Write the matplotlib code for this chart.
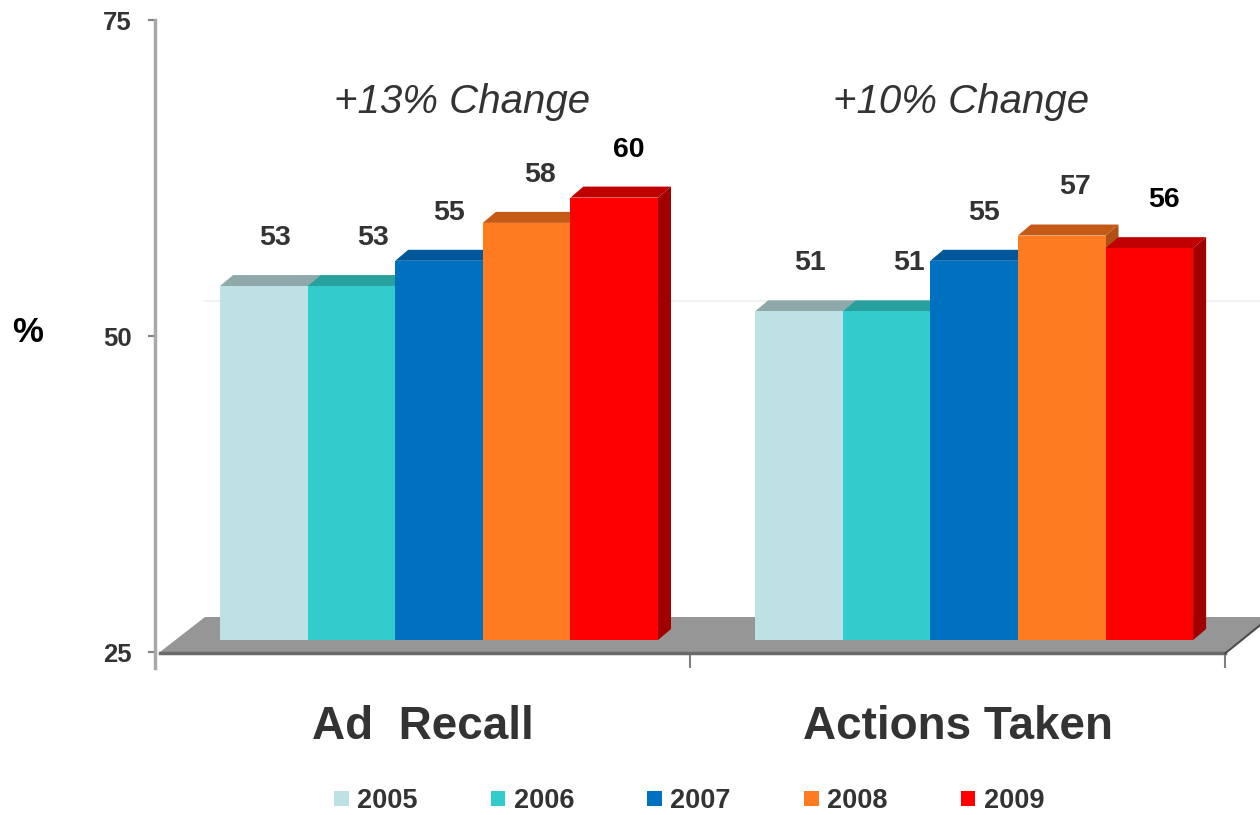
import matplotlib
matplotlib.use("Agg")
import matplotlib.pyplot as plt
from matplotlib.patches import Polygon, Rectangle, Patch

plt.rcParams["font.family"] = ["Liberation Sans", "DejaVu Sans"]

# data
categories = ["Ad  Recall", "Actions Taken"]
years = ["2005", "2006", "2007", "2008", "2009"]
ad_recall = [53, 53, 55, 58, 60]
actions_taken = [51, 51, 55, 57, 56]
series = [ad_recall, actions_taken]
changes = ["+13% Change", "+10% Change"]
yticks = [25, 50, 75]

# styling
front_cols = ["#BDE1E5", "#33CCCC", "#0070C0", "#FF7B21", "#FF0000"]
top_cols = ["#8FA9AB", "#27A09E", "#00589A", "#C55A17", "#C00000"]
side_cols = ["#7F9799", "#218C8B", "#004F8A", "#B05013", "#A00000"]
label_cols = ["#333333"] * 4 + ["#000000"]
TXT = "#333333"

W, H = 1260, 815
fig = plt.figure(figsize=(W / 100, H / 100), dpi=100)
ax = fig.add_axes([155 / W, 163 / H, 1105 / W, 632 / H])
ax.set_xlim(-0.5, 1.565)
ax.set_ylim(25, 75)

px_x = 1 / 535.0        # data units per pixel (x)
px_y = 25 / 316.0       # data units per pixel (y)
ddx, ddy = 13 * px_x, 11 * px_y     # bar depth
lift = 12 * px_y                    # bars sit back on the floor
bw = 0.1637
lab_off = [11, 22, 10, 13, 15]
title_off = [0.074, 0.006]

# floor
fdx, fdy = 45 * px_x, 35 * px_y
fx0, fx1 = -0.4907, 1.5
floor = Polygon([(fx0, 25), (fx1, 25), (fx1 + fdx, 25 + fdy), (fx0 + fdx, 25 + fdy)],
                closed=True, facecolor="#969696", edgecolor="none", zorder=2, clip_on=False)
ax.add_patch(floor)
ax.plot([fx0, fx1], [25 - 0.1, 25 - 0.1], color="#6A6A6A", lw=2.5, zorder=3, clip_on=False)
ax.plot([fx1, fx1 + fdx], [25 - 0.1, 25 + fdy], color="#4A4A4A", lw=1.5, zorder=3, clip_on=False)

# faint back-wall gridline
ax.plot([fx0 + fdx, 1.7], [50 + fdy, 50 + fdy], color="#EFEFEF", lw=1.2, zorder=1, clip_on=False)

z = 4
for g, vals in enumerate(series):
    for i, v in enumerate(vals):
        x0 = g - 0.3785 + i * bw
        y0, y1 = 25 + lift, v + lift
        side = Polygon([(x0 + bw, y0), (x0 + bw + ddx, y0 + ddy), (x0 + bw + ddx, y1 + ddy), (x0 + bw, y1)],
                       closed=True, facecolor=side_cols[i], edgecolor="none", zorder=z)
        top = Polygon([(x0, y1), (x0 + bw, y1), (x0 + bw + ddx, y1 + ddy), (x0 + ddx, y1 + ddy)],
                      closed=True, facecolor=top_cols[i], edgecolor="none", zorder=z)
        front = Rectangle((x0, y0), bw, y1 - y0, facecolor=front_cols[i], edgecolor="none", zorder=z + 1)
        ax.add_patch(side)
        ax.add_patch(top)
        ax.add_patch(front)
        z += 2
        ax.text(x0 + bw / 2 + lab_off[i] * px_x, v + lift + 3.8, str(v), ha="center", va="center",
                fontsize=20.5, fontweight="bold", color=label_cols[i], zorder=50)
    ax.text(g + title_off[g], 68.5, changes[g], ha="center", va="center", fontsize=29,
            style="italic", color=TXT)

# axes styling
for s in ["top", "right", "bottom"]:
    ax.spines[s].set_visible(False)
ax.spines["left"].set_color("#A8A8A8")
ax.spines["left"].set_linewidth(2.5)
ax.spines["left"].set_bounds(25 - 16 * px_y, 75)
ax.set_yticks(yticks)
ax.set_yticklabels([str(t) for t in yticks], fontsize=18.5, fontweight="bold", color=TXT)
ax.tick_params(axis="y", length=5, width=1.5, color="#808080", pad=12)
ax.set_xticks([0.5, 1.5])
ax.set_xticklabels([])
ax.tick_params(axis="x", length=11.5, width=1.5, color="#808080", direction="out")

for g, cat in enumerate(categories):
    ax.text(g, 25 - 75 * px_y, cat, ha="center", va="center", fontsize=33,
            fontweight="bold", color=TXT, clip_on=False)

fig.text(28 / W, 1 - 332 / H, "%", ha="center", va="center", fontsize=25,
         fontweight="bold", color="black")

handles = [Patch(facecolor=c, edgecolor="none") for c in front_cols]
leg = fig.legend(handles, years, loc="center", bbox_to_anchor=(689 / W, 1 - 801 / H),
                 ncol=5, frameon=False, handlelength=0.55, handleheight=0.5,
                 handletextpad=0.3, columnspacing=2.7,
                 prop={"weight": "bold", "size": 19.5})
for t in leg.get_texts():
    t.set_color(TXT)

fig.savefig("out.png", dpi=100)
